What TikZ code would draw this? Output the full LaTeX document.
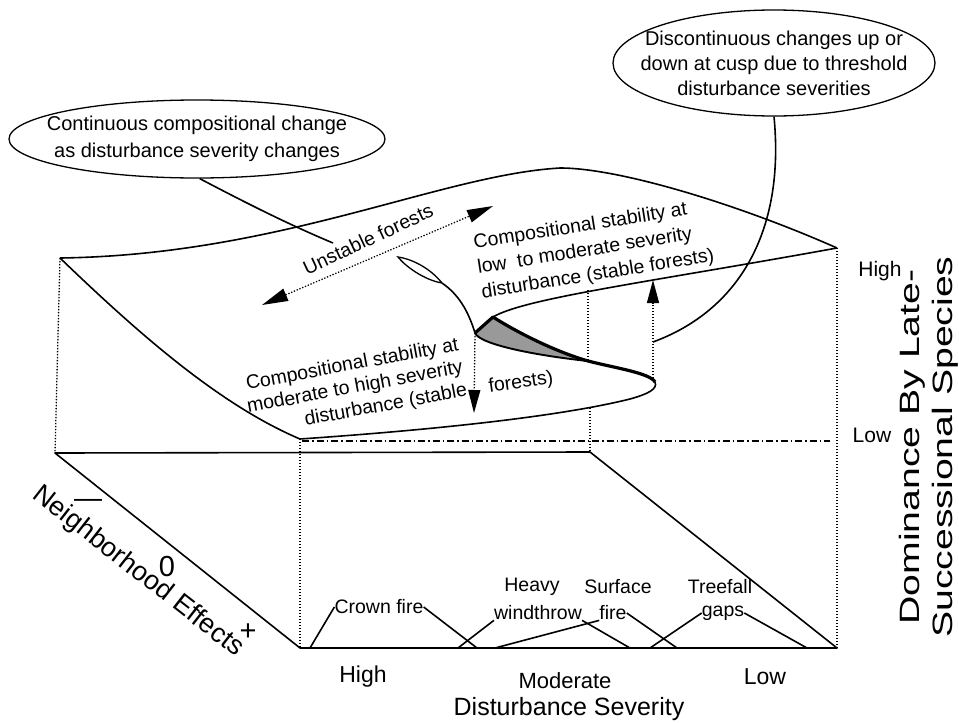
\documentclass[tikz,border=0pt]{standalone}
\usepackage{fontspec}
\setmainfont{Liberation Sans}
\usetikzlibrary{arrows.meta,shapes.geometric}
\begin{document}
\begin{tikzpicture}[x=1pt,y=-1pt,
  ln/.style={line width=1.6pt, line join=round},
  thk/.style={line width=3.2pt, line join=round},
  dt/.style={line width=1.3pt, dash pattern=on 1.3pt off 1.7pt},
  dd/.style={line width=1.2pt, dash pattern=on 7pt off 3pt on 1.5pt off 3pt},
  tri/.style={-{Triangle[length=23pt,width=12pt]}},
  tritwo/.style={{Triangle[length=26pt,width=13pt]}-{Triangle[length=26pt,width=13pt]}},
  txt/.style={font=\fontsize{19.5}{25}\selectfont, inner sep=0pt},
  axl/.style={font=\fontsize{23}{28}\selectfont, inner sep=0pt},
  oval/.style={draw, ellipse, line width=1.3pt, inner sep=0pt}]
\useasboundingbox (0,0) rectangle (959,723);

% --- key points
\coordinate (TL) at (60,258);
\coordinate (TR) at (837,248);
\coordinate (FL) at (300,439);
\coordinate (BL) at (55,453);
\coordinate (BM) at (590,452);
\coordinate (BF) at (300,648);
\coordinate (BR) at (837,648);
\coordinate (tip) at (655,382);
\coordinate (cuspL) at (475,333);
\coordinate (cuspT) at (493,317);
\coordinate (mid) at (588,361);
\coordinate (lensA) at (442,283);
\coordinate (lensB) at (398,257);

% --- bottom box
\draw[ln] (BM) -- (BL) -- (BF) -- (BR) -- (BM);
\draw[dt] (TL) -- (BL);
\draw[dt] (FL) -- (BF);
\draw[dt] (TR) -- (BR);
\coordinate (ddS) at (302,441);
\coordinate (ddE) at (830,441);
\draw[dd] (ddS) -- (ddE);

% --- surface
\draw[ln] (TL) .. controls (280,255) and (440,175) .. (560,168)
          .. controls (620,168) and (740,205) .. (TR);
\draw[ln] (TL) .. controls (140,335) and (220,405) .. (FL);
\draw[ln] (FL) .. controls (460,428) and (570,414) .. (630,399)
          .. controls (648,394) and (658,389) .. (tip);
\fill[black!40] (cuspL) -- (cuspT) .. controls (510,328) and (550,350) .. (mid)
      .. controls (540,356) and (480,345) .. (cuspL);
\draw[line width=1.9pt] (cuspL) .. controls (480,345) and (540,356) .. (mid);
\draw[thk] (cuspL) -- (cuspT) .. controls (510,328) and (550,350) .. (mid)
      .. controls (615,368) and (650,373) .. (tip);
\draw[ln] (cuspT) .. controls (525,298) and (650,282) .. (TR);
\draw[ln] (cuspL) .. controls (468,310) and (458,294) .. (lensA);
\draw[line width=1.3pt] (lensA) .. controls (430,268) and (412,259) .. (lensB)
      .. controls (405,266) and (424,280) .. (lensA);

% --- vertical dotted lines and arrows
\coordinate (u1) at (588,290);
\draw[dt] (u1) -- (mid);
\coordinate (l1) at (590,408);
\draw[dt] (l1) -- (BM);
\coordinate (dn) at (474,413);
\draw[dt,tri] (cuspL) -- (dn);
\coordinate (upS) at (653,378);
\coordinate (upE) at (653,280);
\draw[dt,tri] (upS) -- (upE);
\coordinate (unA) at (262,305);
\coordinate (unB) at (493,206);
\draw[dt,tritwo] (unA) -- (unB);

% --- callouts
\node[oval, minimum width=376pt, minimum height=78pt] (c1) at (197,139) {};
\node[font=\fontsize{20}{27}\selectfont, inner sep=0pt, align=center] (c1t) at (c1) {Continuous compositional change\\as disturbance severity changes};
\coordinate (c1e) at (333,243);
\draw[ln] (c1.-86) .. controls (250,205) and (290,225) .. (c1e);

\node[oval, minimum width=322pt, minimum height=106pt] (c2) at (774,63) {};
\node[font=\fontsize{20}{25}\selectfont, inner sep=0pt, align=center] (c2t) at (c2) {Discontinuous changes up or\\down at cusp due to threshold\\disturbance severities};
\coordinate (c2e) at (653,342);
\draw[ln] (c2.south) .. controls (785,230) and (740,310) .. (c2e);

% --- surface labels
\node[txt, rotate=25] (uns) at (368,239) {Unstable forests};
\node[txt, rotate=9, align=left] (rblk) at (594,250)
  {Compositional stability at\\low\ \ to moderate severity\\disturbance (stable forests)};
\node[font=\fontsize{19.5}{23}\selectfont, inner sep=0pt, rotate=10.5, align=right] (lblk) at (355,388)
  {Compositional stability at\\moderate to high severity\\disturbance (stable};
\node[txt, rotate=8] (l4t) at (521,383) {forests)};

% --- right axis
\node[font=\fontsize{21}{25}\selectfont, inner sep=0pt] (hi) at (880,271) {High};
\node[font=\fontsize{21}{25}\selectfont, inner sep=0pt] (lo) at (872,435) {Low};
\node[font=\fontsize{28}{33}\selectfont, rotate=90, xscale=1.4, align=center, inner sep=0pt] (dom) at (929,447) {Dominance By Late-\\Successional Species};

% --- left axis
\node[font=\fontsize{27}{30}\selectfont, rotate=-38, inner sep=0pt] (nb) at (138,572) {Neighborhood Effects};
\node[font=\fontsize{28}{30}\selectfont, inner sep=0pt] (minus) at (88,503) {—};
\node[font=\fontsize{29}{30}\selectfont, inner sep=0pt] (zero) at (167,567) {0};
\node[font=\fontsize{29}{30}\selectfont, inner sep=0pt] (plus) at (248,632) {+};

% --- disturbance types
\node[txt] (crown) at (379,607) {Crown fire};
\node[txt] (heavy) at (532,587) {Heavy};
\node[txt] (wind) at (538,613) {windthrow};
\node[txt] (surf) at (618,587) {Surface};
\node[txt] (sfire) at (613,613) {fire};
\node[txt] (tree) at (720,587) {Treefall};
\node[txt] (gaps) at (723,613) {gaps};
\coordinate (b1) at (310,648);
\coordinate (b2) at (477,648);
\coordinate (b3) at (458,648);
\coordinate (b4) at (630,648);
\coordinate (b5) at (495,648);
\coordinate (b6) at (677,648);
\coordinate (b7) at (650,648);
\coordinate (b8) at (807,648);
\draw[ln] (b1) -- (crown.west);
\draw[ln] (crown.east) -- (b2);
\draw[ln] (b3) -- (wind.south west);
\draw[ln] (wind.south east) -- (b4);
\draw[ln] (b5) -- (sfire.south west);
\draw[ln] (sfire.east) -- (b6);
\draw[ln] (b7) -- (gaps.west);
\draw[ln] (gaps.east) -- (b8);

% --- bottom axis
\node[axl] (ahigh) at (363,677) {High};
\node[inner sep=0pt, font=\fontsize{22}{26}\selectfont] (amod) at (565,681) {Moderate};
\node[axl] (alow) at (765,677) {Low};
\node[font=\fontsize{25}{30}\selectfont, inner sep=0pt] (ads) at (569,709) {Disturbance Severity};
\end{tikzpicture}
\end{document}
